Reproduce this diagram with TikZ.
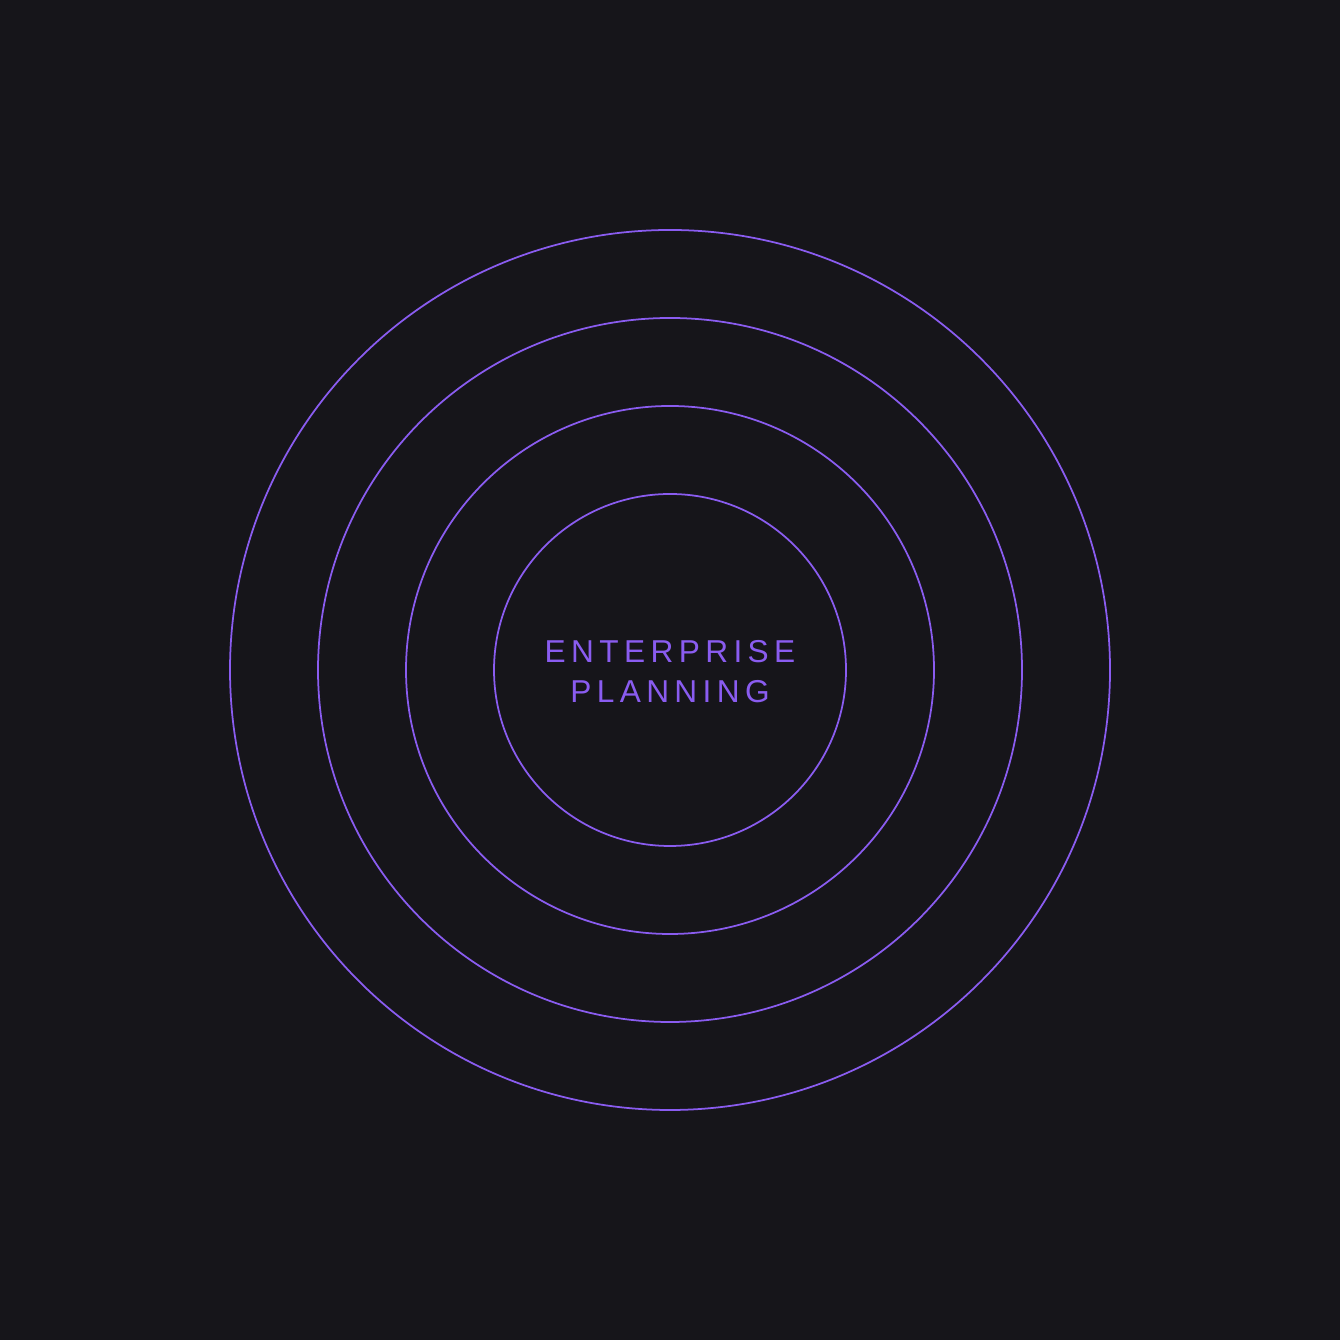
\documentclass[tikz,border=0pt]{standalone}
\usepackage{fontspec}
\setmainfont{Liberation Sans}
\newfontfamily\spacedfont[LetterSpace=17]{Liberation Sans}
\usepackage{tikz}
\definecolor{sfondo}{HTML}{16151A}
\definecolor{viola}{HTML}{8A5CF0}
\tikzset{anello/.style={draw=viola, line width=0.5pt}}

\begin{document}
\begin{tikzpicture}
		% Sfondo
		\fill [sfondo] (0,0) rectangle (13.4,13.4);
		\useasboundingbox (0,0) rectangle (13.4,13.4);
		\coordinate (centro) at (6.7,6.7);
		% Anelli
		\draw [anello] (centro) circle (4.4);
		\draw [anello] (centro) circle (3.52);
		\draw [anello] (centro) circle (2.64);
		\draw [anello] (centro) circle (1.76);
		% Testo
		\node [text=viola, align=center, font=\spacedfont\fontsize{9}{11.4}\selectfont] (titolo) at (6.7,6.68) {ENTERPRISE\\PLANNING};
	\end{tikzpicture}
\end{document}
